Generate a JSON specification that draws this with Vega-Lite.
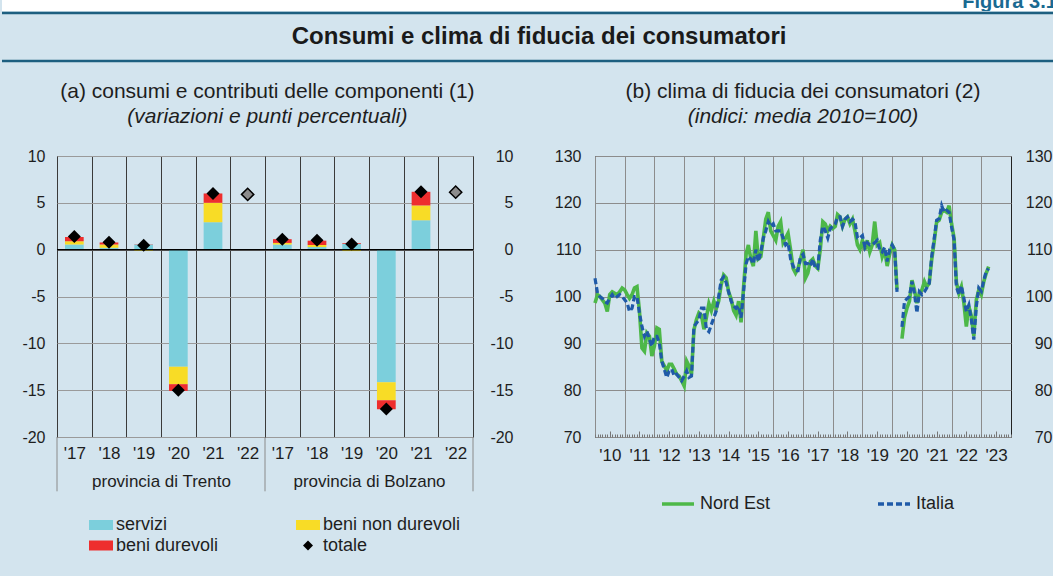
{
  "$schema": "https://vega.github.io/schema/vega-lite/v6.json",
  "background": "#d3e4ee",
  "padding": {"left": 0, "top": 0, "right": 0, "bottom": 20},
  "config": {
    "font": "Liberation Sans",
    "view": {"stroke": null},
    "axis": {"labelColor": "#1e1e1e", "titleColor": "#1e1e1e", "labelFont": "Liberation Sans", "titleFont": "Liberation Sans"},
    "legend": {"labelFont": "Liberation Sans", "labelColor": "#1e1e1e"},
    "title": {"font": "Liberation Sans", "color": "#1e1e1e", "subtitleColor": "#1e1e1e", "subtitleFont": "Liberation Sans"}
  },
  "resolve": {"scale": {"color": "independent"}},
  "datasets": {
    "bars": [
      {"prov": "Trento", "anno": "'17", "comp": "servizi", "v": 0.55},
      {"prov": "Trento", "anno": "'17", "comp": "beni non durevoli", "v": 0.35},
      {"prov": "Trento", "anno": "'17", "comp": "beni durevoli", "v": 0.45},
      {"prov": "Trento", "anno": "'17", "comp": "totale", "v": 1.4},
      {"prov": "Trento", "anno": "'18", "comp": "servizi", "v": 0.2},
      {"prov": "Trento", "anno": "'18", "comp": "beni non durevoli", "v": 0.35},
      {"prov": "Trento", "anno": "'18", "comp": "beni durevoli", "v": 0.22},
      {"prov": "Trento", "anno": "'18", "comp": "totale", "v": 0.78},
      {"prov": "Trento", "anno": "'19", "comp": "servizi", "v": 0.55},
      {"prov": "Trento", "anno": "'19", "comp": "beni non durevoli", "v": -0.12},
      {"prov": "Trento", "anno": "'19", "comp": "beni durevoli", "v": 0.03},
      {"prov": "Trento", "anno": "'19", "comp": "totale", "v": 0.46},
      {"prov": "Trento", "anno": "'20", "comp": "servizi", "v": -12.5},
      {"prov": "Trento", "anno": "'20", "comp": "beni non durevoli", "v": -1.86},
      {"prov": "Trento", "anno": "'20", "comp": "beni durevoli", "v": -0.72},
      {"prov": "Trento", "anno": "'20", "comp": "totale", "v": -15.0},
      {"prov": "Trento", "anno": "'21", "comp": "servizi", "v": 2.93},
      {"prov": "Trento", "anno": "'21", "comp": "beni non durevoli", "v": 2.07},
      {"prov": "Trento", "anno": "'21", "comp": "beni durevoli", "v": 1.0},
      {"prov": "Trento", "anno": "'21", "comp": "totale", "v": 6.0},
      {"prov": "Trento", "anno": "'22", "comp": "totale", "v": 5.9},
      {"prov": "Bolzano", "anno": "'17", "comp": "servizi", "v": 0.55},
      {"prov": "Bolzano", "anno": "'17", "comp": "beni non durevoli", "v": 0.17},
      {"prov": "Bolzano", "anno": "'17", "comp": "beni durevoli", "v": 0.4},
      {"prov": "Bolzano", "anno": "'17", "comp": "totale", "v": 1.12},
      {"prov": "Bolzano", "anno": "'18", "comp": "servizi", "v": 0.28},
      {"prov": "Bolzano", "anno": "'18", "comp": "beni non durevoli", "v": 0.22},
      {"prov": "Bolzano", "anno": "'18", "comp": "beni durevoli", "v": 0.46},
      {"prov": "Bolzano", "anno": "'18", "comp": "totale", "v": 1.0},
      {"prov": "Bolzano", "anno": "'19", "comp": "servizi", "v": 0.62},
      {"prov": "Bolzano", "anno": "'19", "comp": "beni non durevoli", "v": -0.15},
      {"prov": "Bolzano", "anno": "'19", "comp": "beni durevoli", "v": 0.08},
      {"prov": "Bolzano", "anno": "'19", "comp": "totale", "v": 0.6},
      {"prov": "Bolzano", "anno": "'20", "comp": "servizi", "v": -14.15},
      {"prov": "Bolzano", "anno": "'20", "comp": "beni non durevoli", "v": -1.93},
      {"prov": "Bolzano", "anno": "'20", "comp": "beni durevoli", "v": -0.96},
      {"prov": "Bolzano", "anno": "'20", "comp": "totale", "v": -17.0},
      {"prov": "Bolzano", "anno": "'21", "comp": "servizi", "v": 3.14},
      {"prov": "Bolzano", "anno": "'21", "comp": "beni non durevoli", "v": 1.58},
      {"prov": "Bolzano", "anno": "'21", "comp": "beni durevoli", "v": 1.46},
      {"prov": "Bolzano", "anno": "'21", "comp": "totale", "v": 6.18},
      {"prov": "Bolzano", "anno": "'22", "comp": "totale", "v": 6.14}
    ],
    "clima": [
      {"d": "2010-01-01", "Nord Est": 98.6, "Italia": 103.9},
      {"d": "2010-02-01", "Nord Est": 100.4, "Italia": 100.7},
      {"d": "2010-03-01", "Nord Est": 100.0, "Italia": 100.0},
      {"d": "2010-04-01", "Nord Est": 99.3, "Italia": 99.6},
      {"d": "2010-05-01", "Nord Est": 98.6, "Italia": 98.9},
      {"d": "2010-06-01", "Nord Est": 96.8, "Italia": 98.6},
      {"d": "2010-07-01", "Nord Est": 100.4, "Italia": 99.6},
      {"d": "2010-08-01", "Nord Est": 101.0, "Italia": 100.4},
      {"d": "2010-09-01", "Nord Est": 100.7, "Italia": 99.6},
      {"d": "2010-10-01", "Nord Est": 100.4, "Italia": 100.0},
      {"d": "2010-11-01", "Nord Est": 101.0, "Italia": 100.4},
      {"d": "2010-12-01", "Nord Est": 101.8, "Italia": 100.0},
      {"d": "2011-01-01", "Nord Est": 101.4, "Italia": 99.3},
      {"d": "2011-02-01", "Nord Est": 100.4, "Italia": 98.6},
      {"d": "2011-03-01", "Nord Est": 99.6, "Italia": 96.8},
      {"d": "2011-04-01", "Nord Est": 100.4, "Italia": 97.5},
      {"d": "2011-05-01", "Nord Est": 101.8, "Italia": 100.0},
      {"d": "2011-06-01", "Nord Est": 102.1, "Italia": 100.0},
      {"d": "2011-07-01", "Nord Est": 97.0, "Italia": 96.5},
      {"d": "2011-08-01", "Nord Est": 89.0, "Italia": 93.6},
      {"d": "2011-09-01", "Nord Est": 88.3, "Italia": 91.5},
      {"d": "2011-10-01", "Nord Est": 92.2, "Italia": 92.6},
      {"d": "2011-11-01", "Nord Est": 91.5, "Italia": 90.8},
      {"d": "2011-12-01", "Nord Est": 87.3, "Italia": 89.4},
      {"d": "2012-01-01", "Nord Est": 89.4, "Italia": 91.5},
      {"d": "2012-02-01", "Nord Est": 93.3, "Italia": 91.5},
      {"d": "2012-03-01", "Nord Est": 93.0, "Italia": 90.1},
      {"d": "2012-04-01", "Nord Est": 86.2, "Italia": 86.2},
      {"d": "2012-05-01", "Nord Est": 85.2, "Italia": 84.5},
      {"d": "2012-06-01", "Nord Est": 84.1, "Italia": 82.7},
      {"d": "2012-07-01", "Nord Est": 85.5, "Italia": 84.1},
      {"d": "2012-08-01", "Nord Est": 85.5, "Italia": 84.5},
      {"d": "2012-09-01", "Nord Est": 84.5, "Italia": 83.0},
      {"d": "2012-10-01", "Nord Est": 83.4, "Italia": 83.4},
      {"d": "2012-11-01", "Nord Est": 83.0, "Italia": 82.7},
      {"d": "2012-12-01", "Nord Est": 82.0, "Italia": 82.0},
      {"d": "2013-01-01", "Nord Est": 80.9, "Italia": 83.0},
      {"d": "2013-02-01", "Nord Est": 86.2, "Italia": 84.1},
      {"d": "2013-03-01", "Nord Est": 85.2, "Italia": 82.7},
      {"d": "2013-04-01", "Nord Est": 83.4, "Italia": 83.0},
      {"d": "2013-05-01", "Nord Est": 92.9, "Italia": 93.6},
      {"d": "2013-06-01", "Nord Est": 95.1, "Italia": 94.3},
      {"d": "2013-07-01", "Nord Est": 96.5, "Italia": 95.1},
      {"d": "2013-08-01", "Nord Est": 96.0, "Italia": 97.5},
      {"d": "2013-09-01", "Nord Est": 93.0, "Italia": 97.5},
      {"d": "2013-10-01", "Nord Est": 95.5, "Italia": 93.0},
      {"d": "2013-11-01", "Nord Est": 98.5, "Italia": 92.5},
      {"d": "2013-12-01", "Nord Est": 97.0, "Italia": 94.0},
      {"d": "2014-01-01", "Nord Est": 99.0, "Italia": 95.5},
      {"d": "2014-02-01", "Nord Est": 97.5, "Italia": 97.0},
      {"d": "2014-03-01", "Nord Est": 99.0, "Italia": 100.0},
      {"d": "2014-04-01", "Nord Est": 102.5, "Italia": 103.5},
      {"d": "2014-05-01", "Nord Est": 104.6, "Italia": 104.2},
      {"d": "2014-06-01", "Nord Est": 104.0, "Italia": 103.0},
      {"d": "2014-07-01", "Nord Est": 101.0, "Italia": 101.0},
      {"d": "2014-08-01", "Nord Est": 99.5, "Italia": 99.0},
      {"d": "2014-09-01", "Nord Est": 97.0, "Italia": 98.0},
      {"d": "2014-10-01", "Nord Est": 96.0, "Italia": 97.5},
      {"d": "2014-11-01", "Nord Est": 99.0, "Italia": 98.0},
      {"d": "2014-12-01", "Nord Est": 94.5, "Italia": 95.5},
      {"d": "2015-01-01", "Nord Est": 102.0, "Italia": 101.0},
      {"d": "2015-02-01", "Nord Est": 109.0, "Italia": 107.0},
      {"d": "2015-03-01", "Nord Est": 111.0, "Italia": 108.5},
      {"d": "2015-04-01", "Nord Est": 108.0, "Italia": 108.0},
      {"d": "2015-05-01", "Nord Est": 106.5, "Italia": 107.0},
      {"d": "2015-06-01", "Nord Est": 114.0, "Italia": 110.0},
      {"d": "2015-07-01", "Nord Est": 108.0, "Italia": 107.5},
      {"d": "2015-08-01", "Nord Est": 108.5, "Italia": 109.5},
      {"d": "2015-09-01", "Nord Est": 112.5, "Italia": 112.5},
      {"d": "2015-10-01", "Nord Est": 116.5, "Italia": 114.0},
      {"d": "2015-11-01", "Nord Est": 118.0, "Italia": 116.0},
      {"d": "2015-12-01", "Nord Est": 114.0, "Italia": 115.0},
      {"d": "2016-01-01", "Nord Est": 113.0, "Italia": 115.5},
      {"d": "2016-02-01", "Nord Est": 112.0, "Italia": 114.0},
      {"d": "2016-03-01", "Nord Est": 115.0, "Italia": 114.0},
      {"d": "2016-04-01", "Nord Est": 116.0, "Italia": 114.0},
      {"d": "2016-05-01", "Nord Est": 111.5, "Italia": 112.5},
      {"d": "2016-06-01", "Nord Est": 112.5, "Italia": 111.0},
      {"d": "2016-07-01", "Nord Est": 113.5, "Italia": 111.5},
      {"d": "2016-08-01", "Nord Est": 110.0, "Italia": 108.0},
      {"d": "2016-09-01", "Nord Est": 106.0, "Italia": 106.5},
      {"d": "2016-10-01", "Nord Est": 105.0, "Italia": 105.5},
      {"d": "2016-11-01", "Nord Est": 106.0, "Italia": 105.5},
      {"d": "2016-12-01", "Nord Est": 108.0, "Italia": 108.5},
      {"d": "2017-01-01", "Nord Est": 110.0, "Italia": 109.0},
      {"d": "2017-02-01", "Nord Est": 104.0, "Italia": 107.0},
      {"d": "2017-03-01", "Nord Est": 105.0, "Italia": 107.0},
      {"d": "2017-04-01", "Nord Est": 107.5, "Italia": 106.5},
      {"d": "2017-05-01", "Nord Est": 108.0, "Italia": 108.0},
      {"d": "2017-06-01", "Nord Est": 106.5, "Italia": 106.0},
      {"d": "2017-07-01", "Nord Est": 106.0, "Italia": 106.0},
      {"d": "2017-08-01", "Nord Est": 110.0, "Italia": 112.0},
      {"d": "2017-09-01", "Nord Est": 116.0, "Italia": 115.0},
      {"d": "2017-10-01", "Nord Est": 115.5, "Italia": 114.0},
      {"d": "2017-11-01", "Nord Est": 114.0, "Italia": 112.5},
      {"d": "2017-12-01", "Nord Est": 115.0, "Italia": 114.5},
      {"d": "2018-01-01", "Nord Est": 114.5, "Italia": 115.0},
      {"d": "2018-02-01", "Nord Est": 115.0, "Italia": 115.5},
      {"d": "2018-03-01", "Nord Est": 117.5, "Italia": 117.0},
      {"d": "2018-04-01", "Nord Est": 117.0, "Italia": 117.0},
      {"d": "2018-05-01", "Nord Est": 115.0, "Italia": 115.0},
      {"d": "2018-06-01", "Nord Est": 116.5, "Italia": 116.5},
      {"d": "2018-07-01", "Nord Est": 117.0, "Italia": 117.0},
      {"d": "2018-08-01", "Nord Est": 115.5, "Italia": 116.0},
      {"d": "2018-09-01", "Nord Est": 116.5, "Italia": 116.5},
      {"d": "2018-10-01", "Nord Est": 114.0, "Italia": 116.0},
      {"d": "2018-11-01", "Nord Est": 111.0, "Italia": 112.5},
      {"d": "2018-12-01", "Nord Est": 110.0, "Italia": 112.5},
      {"d": "2019-01-01", "Nord Est": 112.0, "Italia": 113.0},
      {"d": "2019-02-01", "Nord Est": 110.0, "Italia": 110.5},
      {"d": "2019-03-01", "Nord Est": 112.0, "Italia": 111.5},
      {"d": "2019-04-01", "Nord Est": 109.5, "Italia": 111.0},
      {"d": "2019-05-01", "Nord Est": 111.0, "Italia": 111.0},
      {"d": "2019-06-01", "Nord Est": 116.0, "Italia": 111.5},
      {"d": "2019-07-01", "Nord Est": 111.0, "Italia": 112.0},
      {"d": "2019-08-01", "Nord Est": 111.5, "Italia": 110.0},
      {"d": "2019-09-01", "Nord Est": 108.5, "Italia": 109.5},
      {"d": "2019-10-01", "Nord Est": 110.0, "Italia": 110.5},
      {"d": "2019-11-01", "Nord Est": 106.5, "Italia": 107.5},
      {"d": "2019-12-01", "Nord Est": 109.0, "Italia": 110.0},
      {"d": "2020-01-01", "Nord Est": 111.0, "Italia": 111.0},
      {"d": "2020-02-01", "Nord Est": 110.0, "Italia": 110.0},
      {"d": "2020-03-01", "Nord Est": 101.5, "Italia": 101.0},
      {"d": "2020-04-01", "Nord Est": null, "Italia": null},
      {"d": "2020-05-01", "Nord Est": 91.0, "Italia": 93.5},
      {"d": "2020-06-01", "Nord Est": 95.5, "Italia": 99.0},
      {"d": "2020-07-01", "Nord Est": 97.5, "Italia": 99.5},
      {"d": "2020-08-01", "Nord Est": 99.0, "Italia": 100.0},
      {"d": "2020-09-01", "Nord Est": 103.5, "Italia": 103.2},
      {"d": "2020-10-01", "Nord Est": 101.4, "Italia": 100.7},
      {"d": "2020-11-01", "Nord Est": 98.6, "Italia": 96.5},
      {"d": "2020-12-01", "Nord Est": 100.7, "Italia": 101.0},
      {"d": "2021-01-01", "Nord Est": 101.4, "Italia": 100.4},
      {"d": "2021-02-01", "Nord Est": 103.2, "Italia": 101.0},
      {"d": "2021-03-01", "Nord Est": 102.1, "Italia": 101.8},
      {"d": "2021-04-01", "Nord Est": 102.8, "Italia": 102.8},
      {"d": "2021-05-01", "Nord Est": 107.8, "Italia": 108.5},
      {"d": "2021-06-01", "Nord Est": 111.7, "Italia": 112.4},
      {"d": "2021-07-01", "Nord Est": 115.9, "Italia": 116.3},
      {"d": "2021-08-01", "Nord Est": 116.3, "Italia": 116.6},
      {"d": "2021-09-01", "Nord Est": 118.0, "Italia": 119.4},
      {"d": "2021-10-01", "Nord Est": 118.4, "Italia": 118.0},
      {"d": "2021-11-01", "Nord Est": 118.0, "Italia": 118.4},
      {"d": "2021-12-01", "Nord Est": 119.4, "Italia": 118.0},
      {"d": "2022-01-01", "Nord Est": 115.5, "Italia": 114.8},
      {"d": "2022-02-01", "Nord Est": 112.4, "Italia": 112.0},
      {"d": "2022-03-01", "Nord Est": 103.0, "Italia": 102.0},
      {"d": "2022-04-01", "Nord Est": 100.7, "Italia": 100.4},
      {"d": "2022-05-01", "Nord Est": 102.1, "Italia": 102.3},
      {"d": "2022-06-01", "Nord Est": 98.6, "Italia": 99.6},
      {"d": "2022-07-01", "Nord Est": 93.6, "Italia": 96.8},
      {"d": "2022-08-01", "Nord Est": 97.9, "Italia": 98.2},
      {"d": "2022-09-01", "Nord Est": 95.8, "Italia": 95.0},
      {"d": "2022-10-01", "Nord Est": 91.5, "Italia": 90.8},
      {"d": "2022-11-01", "Nord Est": 99.3, "Italia": 97.9},
      {"d": "2022-12-01", "Nord Est": 101.4, "Italia": 101.8},
      {"d": "2023-01-01", "Nord Est": 100.4, "Italia": 101.1},
      {"d": "2023-02-01", "Nord Est": 103.2, "Italia": 103.5},
      {"d": "2023-03-01", "Nord Est": 104.9, "Italia": 105.3},
      {"d": "2023-04-01", "Nord Est": 106.4, "Italia": 106.0}
    ]
  },
  "spacing": 17,
  "vconcat": [
    {
      "spacing": 0,
      "vconcat": [
        {
          "width": 1053, "height": 11,
          "view": {"fill": "white", "stroke": null},
          "data": {"values": [{}]},
          "mark": {"type": "text", "text": "Figura 3.1", "align": "left", "baseline": "alphabetic", "fontSize": 20, "fontWeight": "bold", "color": "#1a6a91", "clip": true},
          "encoding": {
            "x": {"datum": 0.912, "type": "quantitative", "scale": {"domain": [0, 1], "zero": false, "nice": false}, "axis": null},
            "y": {"datum": 0.25, "type": "quantitative", "scale": {"domain": [0, 1], "zero": false, "nice": false}, "axis": null}
          }
        },
        {
          "width": 1053, "height": 48,
          "view": {"stroke": null},
          "data": {"values": [{}]},
          "layer": [
            {"mark": {"type": "rule", "color": "#1d5f80", "strokeWidth": 2.5},
             "encoding": {"y": {"datum": 1, "type": "quantitative", "scale": {"domain": [0, 1], "nice": false}, "axis": null}}},
            {"mark": {"type": "rule", "color": "#1d5f80", "strokeWidth": 2.5},
             "encoding": {"y": {"datum": 0, "type": "quantitative", "scale": {"domain": [0, 1], "nice": false}, "axis": null}}},
            {"mark": {"type": "text", "text": "Consumi e clima di fiducia dei consumatori", "fontSize": 24, "fontWeight": "bold", "color": "#1a1a1a", "baseline": "middle"},
             "encoding": {"x": {"datum": 0.51, "type": "quantitative", "scale": {"domain": [0, 1], "nice": false, "zero": false}, "axis": null}}}
          ]
        }
      ]
    },
    {
      "spacing": 0,
      "resolve": {"scale": {"color": "independent"}},
      "hconcat": [
        {
          "width": 19, "height": 1,
          "data": {"values": [{}]},
          "mark": {"type": "text", "text": ""},
          "encoding": {}
        },
        {
          "title": {"text": "(a) consumi e contributi delle componenti (1)", "subtitle": "(variazioni e punti percentuali)", "anchor": "middle", "fontSize": 21, "fontWeight": "normal", "subtitleFontSize": 21, "subtitleFontStyle": "italic", "subtitlePadding": 4, "offset": 21},
          "bounds": "flush",
          "spacing": 0,
          "resolve": {"scale": {"color": "independent"}},
          "hconcat": [
            {
              "width": 208, "height": 281,
              "view": {"stroke": "#222", "strokeWidth": 1},
              "data": {"name": "bars"},
              "transform": [{"filter": {"field": "prov", "equal": "Trento"}}],
              "layer": [
                {
                  "transform": [{"filter": {"not": {"field": "comp", "equal": "totale"}}}],
                  "mark": {"type": "bar", "width": {"band": 0.54}},
                  "encoding": {
                    "x": {"field": "anno", "type": "ordinal", "scale": {"domain": ["'17", "'18", "'19", "'20", "'21", "'22"], "paddingInner": 0, "paddingOuter": 0},
                          "axis": {"tickBand": "extent", "grid": true, "gridColor": "#3a3a3a", "gridWidth": 1, "ticks": false, "domain": false, "labelAngle": 0, "labelPadding": 8, "labelFontSize": 17, "title": "provincia di Trento", "titleFontSize": 17, "titleFontWeight": "normal", "titlePadding": 12}},
                    "y": {"field": "v", "type": "quantitative", "stack": "zero", "scale": {"domain": [-20, 10], "nice": false},
                          "axis": {"values": [-20, -15, -10, -5, 0, 5, 10], "labelExpr": "'' + datum.value", "orient": "left", "grid": true, "gridColor": "#9a9a9a", "ticks": false, "domain": false, "labelPadding": 12, "labelFontSize": 16, "title": null}},
                    "color": {"field": "comp", "type": "nominal",
                              "scale": {"domain": ["servizi", "beni non durevoli", "beni durevoli", "totale"], "range": ["#7ccfdc", "#f8dc26", "#ee2e2e", "#000000"]},
                              "legend": {"orient": "none", "legendX": 34, "legendY": 359, "columns": 2, "direction": "horizontal", "title": null, "symbolSize": 400, "symbolStrokeWidth": 0, "labelFontSize": 18, "labelOffset": 5, "columnPadding": 77, "rowPadding": 1.5, "padding": 0,
                                         "encode": {"symbols": {"update": {"shape": {"signal": "datum.value === 'totale' ? 'M0,-0.5L0.5,0L0,0.5L-0.5,0Z' : 'M-1.2,-0.5H1.2V0.5H-1.2Z'"}}}}}},
                    "order": {"field": "comp", "sort": "descending"}
                  }
                },
                {
                  "data": {"values": [{}]},
                  "mark": {"type": "rule", "color": "#000000", "strokeWidth": 1.5},
                  "encoding": {"y": {"datum": 0, "type": "quantitative", "scale": {"domain": [-20, 10], "nice": false}}}
                },
                {
                  "transform": [{"filter": {"and": [{"field": "comp", "equal": "totale"}, {"not": {"field": "anno", "equal": "'22"}}]}}],
                  "mark": {"type": "point", "shape": "diamond", "filled": true, "size": 169, "opacity": 1},
                  "encoding": {
                    "x": {"field": "anno", "type": "ordinal", "scale": {"domain": ["'17", "'18", "'19", "'20", "'21", "'22"], "paddingInner": 0, "paddingOuter": 0}},
                    "y": {"field": "v", "type": "quantitative", "scale": {"domain": [-20, 10], "nice": false}},
                    "color": {"field": "comp", "type": "nominal", "scale": {"domain": ["servizi", "beni non durevoli", "beni durevoli", "totale"], "range": ["#7ccfdc", "#f8dc26", "#ee2e2e", "#000000"]}}
                  }
                },
                {
                  "transform": [{"filter": {"and": [{"field": "comp", "equal": "totale"}, {"field": "anno", "equal": "'22"}]}}],
                  "mark": {"type": "point", "shape": "diamond", "filled": true, "fill": "#8c8c8c", "stroke": "#000000", "strokeWidth": 1.5, "size": 150, "opacity": 1},
                  "encoding": {
                    "x": {"field": "anno", "type": "ordinal", "scale": {"domain": ["'17", "'18", "'19", "'20", "'21", "'22"], "paddingInner": 0, "paddingOuter": 0}},
                    "y": {"field": "v", "type": "quantitative", "scale": {"domain": [-20, 10], "nice": false}}
                  }
                },
                {
                  "data": {"values": [{}]},
                  "mark": {"type": "rule", "color": "#8a8a8a", "strokeWidth": 1},
                  "encoding": {
                    "x": {"datum": "'17", "type": "ordinal", "bandPosition": 0, "scale": {"domain": ["'17", "'18", "'19", "'20", "'21", "'22"], "paddingInner": 0, "paddingOuter": 0}},
                    "y": {"datum": -20, "type": "quantitative", "scale": {"domain": [-20, 10], "nice": false}},
                    "y2": {"datum": -25.8}
                  }
                },
                {
                  "data": {"values": [{}]},
                  "mark": {"type": "rule", "color": "#8a8a8a", "strokeWidth": 1},
                  "encoding": {
                    "x": {"datum": "'22", "type": "ordinal", "bandPosition": 1, "scale": {"domain": ["'17", "'18", "'19", "'20", "'21", "'22"], "paddingInner": 0, "paddingOuter": 0}},
                    "y": {"datum": -20, "type": "quantitative", "scale": {"domain": [-20, 10], "nice": false}},
                    "y2": {"datum": -25.8}
                  }
                }
              ]
            },
            {
              "width": 208, "height": 281,
              "view": {"stroke": "#222", "strokeWidth": 1},
              "data": {"name": "bars"},
              "transform": [{"filter": {"field": "prov", "equal": "Bolzano"}}],
              "layer": [
                {
                  "transform": [{"filter": {"not": {"field": "comp", "equal": "totale"}}}],
                  "mark": {"type": "bar", "width": {"band": 0.54}},
                  "encoding": {
                    "x": {"field": "anno", "type": "ordinal", "scale": {"domain": ["'17", "'18", "'19", "'20", "'21", "'22"], "paddingInner": 0, "paddingOuter": 0},
                          "axis": {"tickBand": "extent", "grid": true, "gridColor": "#3a3a3a", "gridWidth": 1, "ticks": false, "domain": false, "labelAngle": 0, "labelPadding": 8, "labelFontSize": 17, "title": "provincia di Bolzano", "titleFontSize": 17, "titleFontWeight": "normal", "titlePadding": 12}},
                    "y": {"field": "v", "type": "quantitative", "stack": "zero", "scale": {"domain": [-20, 10], "nice": false},
                          "axis": {"values": [-20, -15, -10, -5, 0, 5, 10], "labelExpr": "'' + datum.value", "orient": "right", "grid": true, "gridColor": "#9a9a9a", "ticks": false, "domain": false, "labelAlign": "right", "labelPadding": 40, "labelFontSize": 16, "title": null}},
                    "color": {"field": "comp", "type": "nominal",
                              "scale": {"domain": ["servizi", "beni non durevoli", "beni durevoli", "totale"], "range": ["#7ccfdc", "#f8dc26", "#ee2e2e", "#000000"]},
                              "legend": null},
                    "order": {"field": "comp", "sort": "descending"}
                  }
                },
                {
                  "data": {"values": [{}]},
                  "mark": {"type": "rule", "color": "#000000", "strokeWidth": 1.5},
                  "encoding": {"y": {"datum": 0, "type": "quantitative", "scale": {"domain": [-20, 10], "nice": false}}}
                },
                {
                  "transform": [{"filter": {"and": [{"field": "comp", "equal": "totale"}, {"not": {"field": "anno", "equal": "'22"}}]}}],
                  "mark": {"type": "point", "shape": "diamond", "filled": true, "size": 169, "opacity": 1},
                  "encoding": {
                    "x": {"field": "anno", "type": "ordinal", "scale": {"domain": ["'17", "'18", "'19", "'20", "'21", "'22"], "paddingInner": 0, "paddingOuter": 0}},
                    "y": {"field": "v", "type": "quantitative", "scale": {"domain": [-20, 10], "nice": false}},
                    "color": {"field": "comp", "type": "nominal", "scale": {"domain": ["servizi", "beni non durevoli", "beni durevoli", "totale"], "range": ["#7ccfdc", "#f8dc26", "#ee2e2e", "#000000"]}, "legend": null}
                  }
                },
                {
                  "transform": [{"filter": {"and": [{"field": "comp", "equal": "totale"}, {"field": "anno", "equal": "'22"}]}}],
                  "mark": {"type": "point", "shape": "diamond", "filled": true, "fill": "#8c8c8c", "stroke": "#000000", "strokeWidth": 1.5, "size": 150, "opacity": 1},
                  "encoding": {
                    "x": {"field": "anno", "type": "ordinal", "scale": {"domain": ["'17", "'18", "'19", "'20", "'21", "'22"], "paddingInner": 0, "paddingOuter": 0}},
                    "y": {"field": "v", "type": "quantitative", "scale": {"domain": [-20, 10], "nice": false}}
                  }
                },
                {
                  "data": {"values": [{}]},
                  "mark": {"type": "rule", "color": "#8a8a8a", "strokeWidth": 1},
                  "encoding": {
                    "x": {"datum": "'22", "type": "ordinal", "bandPosition": 1, "scale": {"domain": ["'17", "'18", "'19", "'20", "'21", "'22"], "paddingInner": 0, "paddingOuter": 0}},
                    "y": {"datum": -20, "type": "quantitative", "scale": {"domain": [-20, 10], "nice": false}},
                    "y2": {"datum": -25.8}
                  }
                }
              ]
            }
          ]
        },
        {
          "width": 39, "height": 1,
          "data": {"values": [{}]},
          "mark": {"type": "text", "text": ""},
          "encoding": {}
        },
        {
          "title": {"text": "(b) clima di fiducia dei consumatori (2)", "subtitle": "(indici: media 2010=100)", "anchor": "middle", "fontSize": 21, "fontWeight": "normal", "subtitleFontSize": 21, "subtitleFontStyle": "italic", "subtitlePadding": 4, "offset": 21},
          "width": 416, "height": 281,
          "view": {"stroke": "#222", "strokeWidth": 1},
          "data": {"name": "clima"},
          "transform": [{"fold": ["Nord Est", "Italia"], "as": ["serie", "v"]}],
          "resolve": {"axis": {"x": "independent", "y": "independent"}},
          "layer": [
            {
              "transform": [{"filter": {"field": "serie", "equal": "Nord Est"}}],
              "mark": {"type": "line", "strokeWidth": 3.6, "strokeCap": "butt"},
              "encoding": {
                "x": {"field": "d", "type": "temporal",
                      "scale": {"type": "utc", "domain": [{"year": 2010, "month": 1, "date": 1, "utc": true}, {"year": 2024, "month": 1, "date": 1, "utc": true}]},
                      "axis": {"values": [
                        {"year": 2010, "month": 1, "date": 1, "utc": true}, {"year": 2011, "month": 1, "date": 1, "utc": true},
                        {"year": 2012, "month": 1, "date": 1, "utc": true}, {"year": 2013, "month": 1, "date": 1, "utc": true},
                        {"year": 2014, "month": 1, "date": 1, "utc": true}, {"year": 2015, "month": 1, "date": 1, "utc": true},
                        {"year": 2016, "month": 1, "date": 1, "utc": true}, {"year": 2017, "month": 1, "date": 1, "utc": true},
                        {"year": 2018, "month": 1, "date": 1, "utc": true}, {"year": 2019, "month": 1, "date": 1, "utc": true},
                        {"year": 2020, "month": 1, "date": 1, "utc": true}, {"year": 2021, "month": 1, "date": 1, "utc": true},
                        {"year": 2022, "month": 1, "date": 1, "utc": true}, {"year": 2023, "month": 1, "date": 1, "utc": true}],
                        "format": "'%y", "labelOffset": 14.85, "labelFlush": false, "labelOverlap": false, "labelBound": false,
                        "grid": true, "gridColor": "#8c8c8c", "ticks": false, "domain": false, "labelPadding": 10, "labelFontSize": 17, "title": null}},
                "y": {"field": "v", "type": "quantitative", "scale": {"domain": [70, 130], "nice": false, "zero": false},
                      "axis": {"values": [70, 80, 90, 100, 110, 120, 130], "orient": "left", "grid": true, "gridColor": "#8c8c8c", "ticks": false, "domain": false, "labelPadding": 14, "labelFontSize": 16, "title": null}},
                "color": {"field": "serie", "type": "nominal", "scale": {"domain": ["Nord Est", "Italia"], "range": ["#4db848", "#1f5aa8"]},
                          "legend": {"orient": "none", "legendX": 65, "legendY": 330, "direction": "horizontal", "title": null, "symbolType": "stroke", "symbolSize": 1024, "symbolStrokeWidth": 3.5, "labelFontSize": 18, "labelOffset": 4, "columnPadding": 100, "padding": 0,
                                     "encode": {"symbols": {"update": {"strokeDash": {"signal": "datum.value === 'Italia' ? [6, 3] : [1, 0]"}}}}}}
              }
            },
            {
              "transform": [{"filter": {"field": "serie", "equal": "Italia"}}],
              "mark": {"type": "line", "strokeWidth": 3.2, "strokeDash": [6, 3], "strokeCap": "butt"},
              "encoding": {
                "x": {"field": "d", "type": "temporal",
                      "scale": {"type": "utc", "domain": [{"year": 2010, "month": 1, "date": 1, "utc": true}, {"year": 2024, "month": 1, "date": 1, "utc": true}]},
                      "axis": {"orient": "bottom", "grid": false, "labels": false, "domain": false, "ticks": true, "tickCount": 168,
                               "tickSize": {"condition": {"test": "utcmonth(datum.value) === 6", "value": -6}, "value": -3},
                               "tickColor": "#777777", "tickWidth": 1, "title": null}},
                "y": {"field": "v", "type": "quantitative", "scale": {"domain": [70, 130], "nice": false, "zero": false},
                      "axis": {"values": [70, 80, 90, 100, 110, 120, 130], "orient": "right", "grid": false, "ticks": false, "domain": false, "labelAlign": "right", "labelPadding": 41, "labelFontSize": 16, "title": null}},
                "color": {"field": "serie", "type": "nominal", "scale": {"domain": ["Nord Est", "Italia"], "range": ["#4db848", "#1f5aa8"]}}
              }
            }
          ]
        }
      ]
    }
  ]
}
